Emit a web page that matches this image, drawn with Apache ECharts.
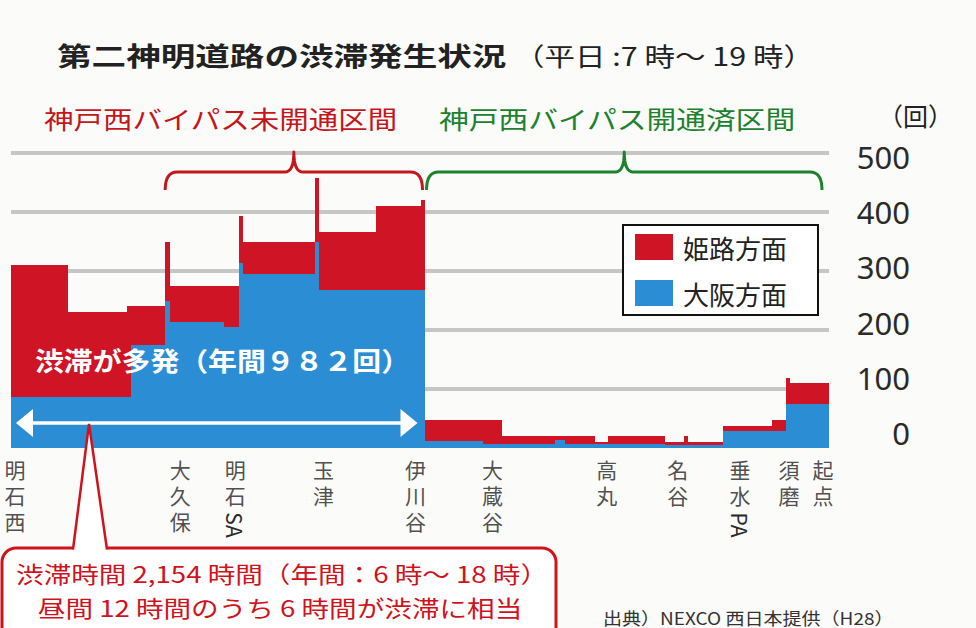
<!DOCTYPE html>
<html><head><meta charset="utf-8">
<script src="https://cdn.jsdelivr.net/npm/echarts@6/dist/echarts.min.js"></script>
<style>html,body{margin:0;padding:0;background:#fbfbf9}#c{width:976px;height:628px}</style>
</head><body><div id="c"></div>
<script>
// segment boundaries along the road (relative position units, 明石西 -> 起点)
const edges = [0,57,116,120,154,159,213,228,232,304,308,365,409,413,471,490,543,553,583,596,653,672,676,711,760,774,778,817];
// 大阪方面 (bottom) per segment
const osaka = [86,86,86,175,250,213,205,313,295,349,267,267,267,12,6,6,13,6,6,6,5,5,5,29,29,74,74];
// 姫路方面 (stacked on top) per segment
const himeji = [225,145,154,65,100,62,70,80,54,108,99,144,153,35,41,14,7,14,5,14,5,15,5,8,18,45,36];
// station labels
const stationPos = [4,169,224,312,404,481,595,666,728,777,811];
const stationNames = ['明石西','大久保','明石SA','玉津','伊川谷','大蔵谷','高丸','名谷','垂水PA','須磨','起点'];
const yTicks = [0,100,200,300,400,500];
const seriesNames = ['大阪方面','姫路方面'];
const legendOrder = ['姫路方面','大阪方面'];
const redSpan = [154,411];
const greenSpan = [415,810];
const arrowSpan = [5,406];

const RED = '#cf1426', BLUE = '#2b8ed5';
const JP = '"Noto Sans CJK JP", "Noto Sans", sans-serif';
const JPL = '"Liberation Sans", "Noto Sans CJK JP", sans-serif';
const LH = 26;

const osakaData = osaka.map((v,i)=>[edges[i],edges[i+1],0,v]);
const himejiData = himeji.map((v,i)=>[edges[i],edges[i+1],osaka[i],osaka[i]+v]);

function renderItem(params, api){
  const a = api.coord([api.value(0), api.value(3)]);
  const b = api.coord([api.value(1), api.value(2)]);
  const x = Math.round(a[0]), y = Math.round(a[1]);
  return {type:'rect', shape:{x:x, y:y, width:Math.round(b[0])-x, height:Math.round(b[1])-y},
    style:{fill: api.visual('color')}};
}
function splitName(n){ const m = n.match(/^(.*?)([A-Z]*)$/); return [m[1], m[2]]; }

const chart = echarts.init(document.getElementById('c'), null, {renderer:'svg'});
const option = {
  backgroundColor:'#fbfbf9',
  animation:false,
  grid:[{left:11, top:153, width:818, height:295},{left:11, top:157, width:818, height:276}],
  xAxis:[{type:'value', gridIndex:0, min:0, max:817, show:false},
         {type:'value', gridIndex:1, min:0, max:817, show:false}],
  yAxis:[{type:'value', gridIndex:0, min:yTicks[0], max:yTicks[yTicks.length-1], interval:100,
          axisLine:{show:false}, axisTick:{show:false}, axisLabel:{show:false},
          splitLine:{show:true, showMinLine:false, lineStyle:{color:'#c6c6c6', width:4}}},
         {type:'value', gridIndex:1, position:'right', min:yTicks[0], max:yTicks[yTicks.length-1], interval:100,
          axisLine:{show:false}, axisTick:{show:false}, splitLine:{show:false},
          axisLabel:{fontSize:31, color:'#2a2a2a', fontFamily:'"Noto Sans", sans-serif', align:'right', margin:81}}],
  legend:{data:legendOrder, orient:'vertical', left:623, top:225, itemWidth:38, itemHeight:26, itemGap:20,
    padding:[9,31,9,12], backgroundColor:'#fff', borderColor:'#111', borderWidth:2, icon:'rect', selectedMode:false,
    textStyle:{fontSize:26, color:'#222', fontFamily:JP, padding:[0,0,0,5], lineHeight:26}},
  series:[
    {name:seriesNames[0], type:'custom', xAxisIndex:0, yAxisIndex:0, itemStyle:{color:BLUE},
     encode:{x:[0,1], y:[2,3]}, data:osakaData, renderItem:renderItem, silent:true},
    {name:seriesNames[1], type:'custom', xAxisIndex:0, yAxisIndex:0, itemStyle:{color:RED},
     encode:{x:[0,1], y:[2,3]}, data:himejiData, renderItem:renderItem, silent:true},
    {name:'stations', type:'scatter', xAxisIndex:0, yAxisIndex:0, symbol:'circle', symbolSize:1,
     itemStyle:{color:'rgba(0,0,0,0)'}, silent:true, z:5,
     data: stationPos.map((p,i)=>[p,0,i]),
     label:{show:true, position:'bottom', distance:9, fontSize:21, lineHeight:LH, color:'#222', fontFamily:JPL,
       formatter: p => splitName(stationNames[p.value[2]])[0].split('').join('\n')}}
  ]
};
chart.setOption(option);

const px = v => chart.convertToPixel({gridIndex:0}, [v,0])[0];
const T = (text, x, y, size, opts) => Object.assign({type:'text', x:x, y:y, z:100, silent:true,
  style:Object.assign({text:text, fontSize:size, fontFamily:JP, fill:'#222', align:'left', verticalAlign:'middle'}, (opts&&opts.style)||{})},
  opts && opts.scaleX ? {scaleX:opts.scaleX} : {});

function quad(p0, c, p1, out){
  for (let k=1;k<=8;k++){ const t=k/8, u=1-t;
    out.push([u*u*p0[0]+2*u*t*c[0]+t*t*p1[0], u*u*p0[1]+2*u*t*c[1]+t*t*p1[1]]); }
}
function brace(x0, x1, color){
  const m = (x0+x1)/2, yh = 172, ye = 190, yt = 152;
  const pts = [[x0,ye]];
  quad([x0,ye],[x0,yh],[x0+12,yh],pts);
  pts.push([m-9,yh]);
  quad([m-9,yh],[m,yh],[m,yt],pts);
  quad([m,yt],[m,yh],[m+9,yh],pts);
  pts.push([x1-12,yh]);
  quad([x1-12,yh],[x1,yh],[x1,ye],pts);
  return {type:'polyline', z:100, silent:true, shape:{points:pts}, style:{fill:null, stroke:color, lineWidth:3, lineJoin:'round'}};
}

const g = [];
g.push(T('第二神明道路の渋滞発生状況', 57, 55, 26, {scaleX:1.33, style:{fontWeight:'bold', fill:'#222'}}));
g.push(T('（平日 :7 時～ 19 時）', 514, 55, 25, {scaleX:1.22}));
g.push(T('神戸西バイパス未開通区間', 44, 118, 25, {scaleX:1.18, style:{fill:'#c4161c'}}));
g.push(T('神戸西バイパス開通済区間', 439, 118, 25, {scaleX:1.19, style:{fill:'#1c8230'}}));
g.push(T('（回）', 878, 115, 25));
g.push(brace(px(redSpan[0]), px(redSpan[1]), '#c4161c'));
g.push(brace(px(greenSpan[0]), px(greenSpan[1]), '#1c8230'));
// rotated latin suffixes of station names
stationNames.forEach((n,i)=>{
  const s = splitName(n);
  if (s[1]) {
    const rows = s[0].length;
    g.push({type:'text', x:px(stationPos[i]), y:448+9+rows*LH+16, rotation:-Math.PI/2, z:100, silent:true,
      style:{text:s[1], fontSize:21, fontWeight:'normal', fontFamily:JP, fill:'#2a2a2a', align:'center', verticalAlign:'middle'}});
  }
});
// white annotation inside chart
g.push(T('渋滞が多発（年間９８２回）', 35, 360, 26, {scaleX:1.11, style:{fontWeight:'bold', fill:'#ffffff'}}));
const ax0 = px(arrowSpan[0]), ax1 = px(arrowSpan[1]), ay = 423;
g.push({type:'line', z:100, silent:true, shape:{x1:ax0+10, y1:ay, x2:ax1-10, y2:ay}, style:{stroke:'#fff', lineWidth:3.5}});
g.push({type:'polygon', z:100, silent:true, shape:{points:[[ax0,ay],[ax0+17,ay-14],[ax0+17,ay+14]]}, style:{fill:'#fff'}});
g.push({type:'polygon', z:100, silent:true, shape:{points:[[ax1,ay],[ax1-17,ay-14],[ax1-17,ay+14]]}, style:{fill:'#fff'}});
// callout
g.push({type:'rect', z:100, silent:true, shape:{x:2, y:548, width:554, height:110, r:14}, style:{fill:'#fff', stroke:'#d0121c', lineWidth:3}});
g.push({type:'polygon', z:101, silent:true, shape:{points:[[73,551],[89,424],[107,551]]}, style:{fill:'#fff'}});
g.push({type:'polyline', z:101, silent:true, shape:{points:[[73,549.5],[89,424],[107,549.5]]}, style:{fill:null, stroke:'#d0121c', lineWidth:2.5}});
g.push(T('渋滞時間 2,154 時間（年間：6 時～ 18 時）', 282, 573, 23, {scaleX:1.2, style:{fill:'#d0121c', align:'center'}}));
g.push(T('昼間 12 時間のうち 6 時間が渋滞に相当', 280, 607, 23, {scaleX:1.2, style:{fill:'#d0121c', align:'center'}}));
g.push(T('出典）NEXCO 西日本提供（H28）', 603, 617, 17, {scaleX:1.12, style:{fill:'#333'}}));
chart.setOption({graphic:g});
</script></body></html>
